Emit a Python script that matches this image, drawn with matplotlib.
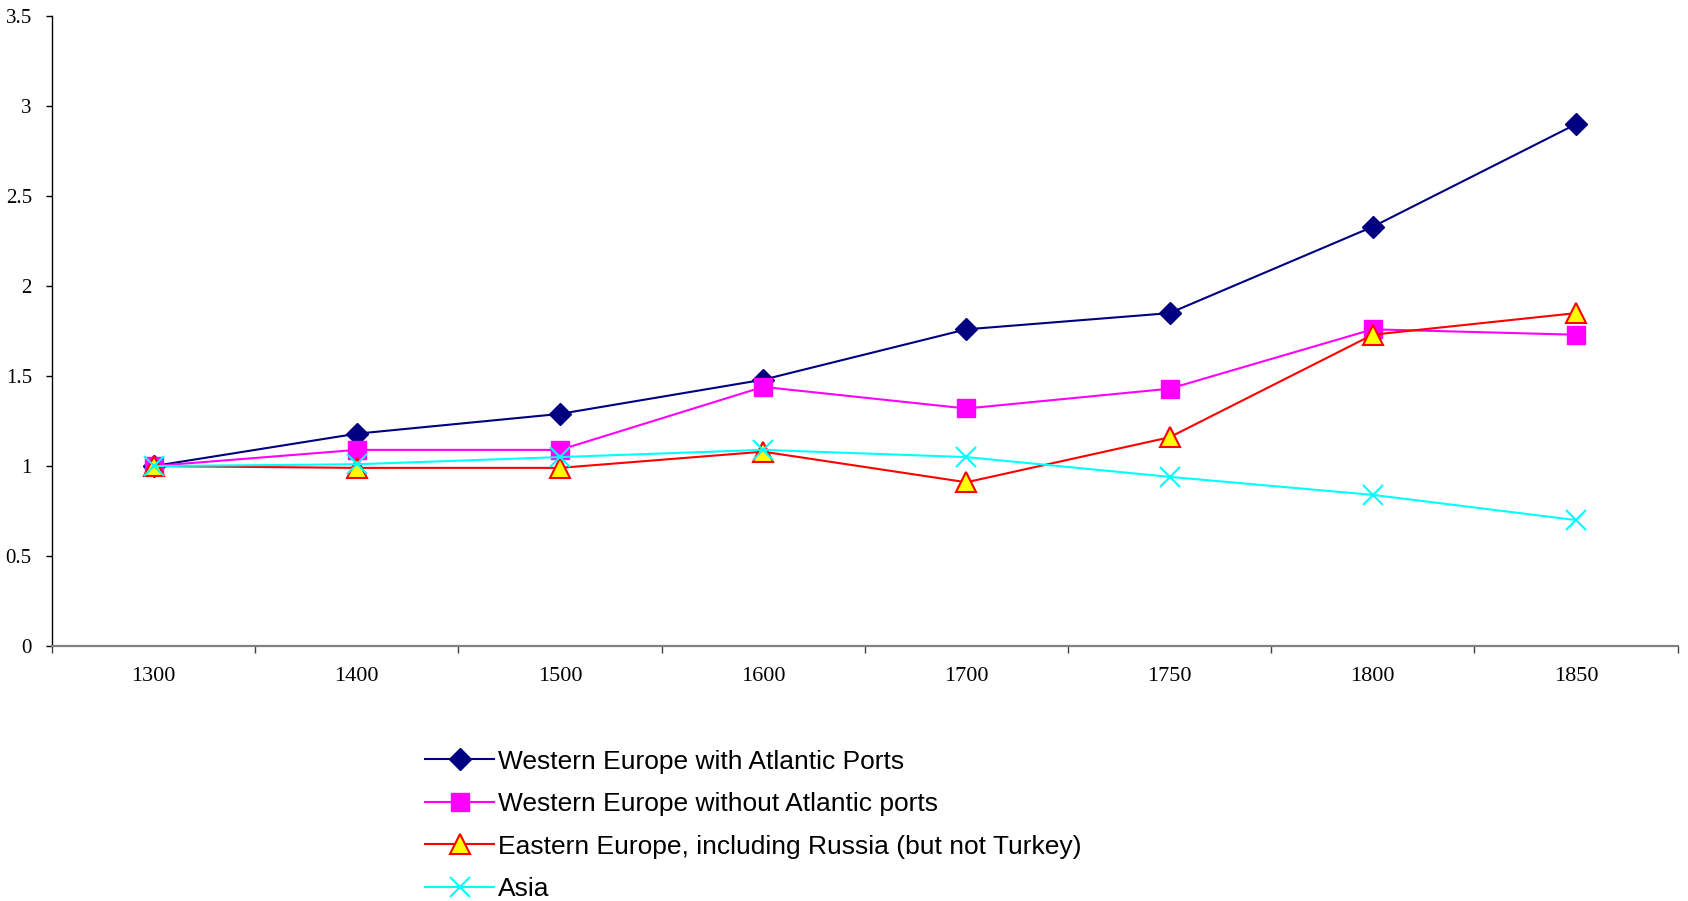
# relative growth by region, 1300-1850

import numpy as np
import matplotlib.pyplot as plt

years = ["1300", "1400", "1500", "1600", "1700", "1750", "1800", "1850"]

west_atlantic = [1.0, 1.18, 1.29, 1.48, 1.76, 1.85, 2.33, 2.90]
west_no_atlantic = [1.0, 1.09, 1.09, 1.44, 1.32, 1.43, 1.76, 1.73]
east_europe = [1.0, 0.99, 0.99, 1.08, 0.91, 1.16, 1.73, 1.85]
asia = [1.0, 1.01, 1.05, 1.09, 1.05, 0.94, 0.84, 0.70]

labels = ["Western Europe with Atlantic Ports",
          "Western Europe without Atlantic ports",
          "Eastern Europe, including Russia (but not Turkey)",
          "Asia"]

fig = plt.figure(figsize=(16.88, 9.01), dpi=100)
ax = fig.add_axes([0.0308, 0.283, 0.963, 0.699])

x = np.arange(len(years))
ax.plot(x, west_atlantic, color="#000080", lw=1.5, marker="D", ms=11,
        mfc="#000080", mec="#000080", label=labels[0])
ax.plot(x, west_no_atlantic, color="#FF00FF", lw=1.5, marker="s", ms=13,
        mfc="#FF00FF", mec="#FF00FF", label=labels[1])
ax.plot(x, east_europe, color="#FF0000", lw=1.5, marker="^", ms=15,
        mfc="#FFFF00", mec="#FF0000", mew=1.5, label=labels[2])
ax.plot(x, asia, color="#00FFFF", lw=1.5, marker="x", ms=14, mew=1.5,
        label=labels[3])

ax.set_xlim(-0.5, len(years) - 0.5)
ax.set_ylim(0, 3.5)

# tick marks sit between categories, labels under the points
ax.set_xticks(np.arange(-0.5, len(years), 1))
ax.set_xticklabels([])
ax.set_xticks(x, minor=True)
ax.set_xticklabels(years, minor=True, fontsize=16, family="Liberation Serif")
ax.tick_params(axis="x", which="minor", length=0, pad=15)
ax.tick_params(axis="x", which="major", length=5, width=1, color="#404040")

yt = np.arange(0, 3.51, 0.5)
ax.set_yticks(yt)
ax.set_yticklabels([("%g" % v) for v in yt], fontsize=15, family="Liberation Serif")
ax.tick_params(axis="y", length=4.5, width=1, pad=10)

ax.spines["top"].set_visible(False)
ax.spines["right"].set_visible(False)
ax.spines["left"].set_linewidth(1)
ax.spines["bottom"].set_color("#808080")
ax.spines["bottom"].set_linewidth(1.6)

leg = fig.legend(loc="upper left", bbox_to_anchor=(0.252, 0.168), frameon=False,
                 prop={"family": "Liberation Sans", "size": 19},
                 handlelength=2.6, handletextpad=0.15, labelspacing=0.7,
                 borderpad=0, borderaxespad=0)

fig.savefig("out.png", dpi=100)
